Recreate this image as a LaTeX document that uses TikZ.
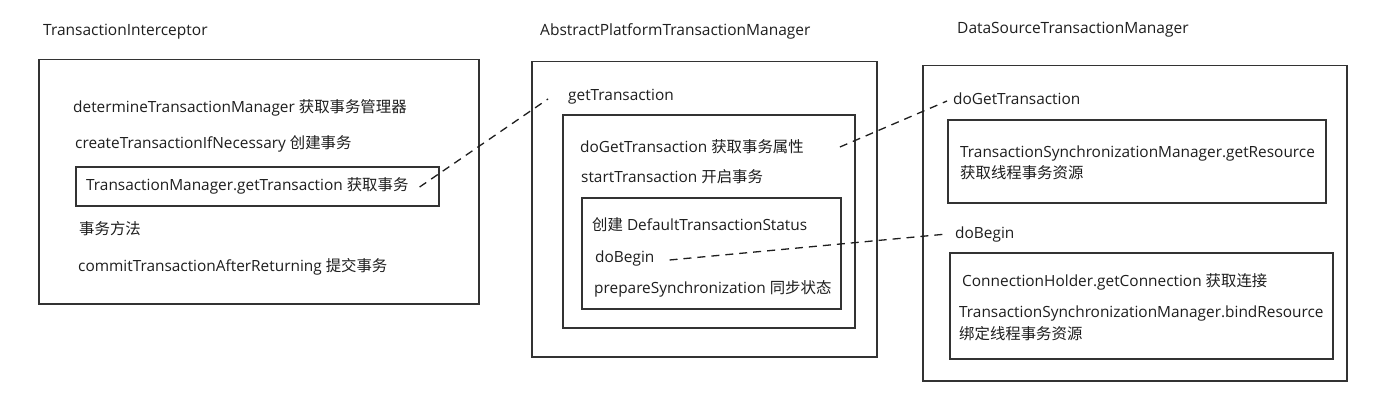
\documentclass[tikz,border=0pt]{standalone}
\usepackage{fontspec}
\setmainfont{Open Sans}
\newfontfamily\cjk{Noto Sans CJK SC}
\usetikzlibrary{calc}
\definecolor{ink}{HTML}{1E1E1E}
\definecolor{edge}{HTML}{333333}
\begin{document}
\begin{tikzpicture}[x=1pt,y=-1pt,
  box/.style={draw=edge, line width=1.5pt, anchor=north west, inner sep=0pt},
  txt/.style={anchor=base west, inner sep=0pt, text=ink, font=\fontsize{15.4}{18}\selectfont},
  title/.style={anchor=base west, inner sep=0pt, text=ink, font=\fontsize{15.5}{18}\selectfont},
  link/.style={draw=ink, line width=1.3pt, dash pattern=on 8pt off 6pt}]
\useasboundingbox (0,0) rectangle (1373,404);
\fill[white] (0,0) rectangle (1373,404);

% titles
\node[title] (t1) at (43,36) {TransactionInterceptor};
\node[title] (t2) at (540,36) {AbstractPlatformTransactionManager};
\node[title] (t3) at (957,34) {DataSourceTransactionManager};

% left column
\node[box, minimum width=440pt, minimum height=244pt] (L) at (38,59) {};
\node[box, minimum width=363pt, minimum height=39pt] (Lin) at (75,166) {};
\node[txt] (dtm) at (73,112) {determineTransactionManager {\cjk 获取事务管理器}};
\node[txt] (ctin) at (75,148) {createTransactionIfNecessary {\cjk 创建事务}};
\node[txt] (tmgt) at (86,190) {TransactionManager.getTransaction {\cjk 获取事务}};
\node[txt] (swff) at (79,234) {{\cjk 事务方法}};
\node[txt] (ctar) at (78,271) {commitTransactionAfterReturning {\cjk 提交事务}};

% middle column
\node[box, minimum width=345pt, minimum height=295pt] (M) at (531,61) {};
\node[box, minimum width=292pt, minimum height=213pt] (Min) at (562,114) {};
\node[box, minimum width=259pt, minimum height=111pt] (Minn) at (581,197) {};
\node[txt] (gt) at (568,100) {getTransaction};
\node[txt] (dgt) at (580,152) {doGetTransaction {\cjk 获取事务属性}};
\node[txt] (st) at (581,182) {startTransaction {\cjk 开启事务}};
\node[txt] (cdts) at (592,230) {{\cjk 创建} DefaultTransactionStatus};
\node[txt] (db) at (595,262) {doBegin};
\node[txt] (ps) at (594,293) {prepareSynchronization {\cjk 同步状态}};

% right column
\node[box, minimum width=424pt, minimum height=315pt] (R) at (922,65) {};
\node[box, minimum width=378pt, minimum height=83pt] (Rin1) at (947,119) {};
\node[box, minimum width=383pt, minimum height=106pt] (Rin2) at (949,252) {};
\node[txt] (rdgt) at (953,104) {doGetTransaction};
\node[txt] (gr) at (960,157) {TransactionSynchronizationManager.getResource};
\node[txt] (gr2) at (960,178) {{\cjk 获取线程事务资源}};
\node[txt] (rdb) at (955,238) {doBegin};
\node[txt] (gc) at (962,286) {ConnectionHolder.getConnection {\cjk 获取连接}};
\node[txt] (br) at (959,317) {TransactionSynchronizationManager.bindResource};
\node[txt] (br2) at (959,339) {{\cjk 绑定线程事务资源}};

% connectors
\draw[link] ($(tmgt.base east)+(11,-3)$) -- ($(gt.base west)+(-20,-1)$);
\draw[link] ($(dgt.base east)+(36,-5)$) -- ($(rdgt.base west)+(-6,-3)$);
\draw[link] ($(db.base east)+(15,-2)$) -- ($(rdb.base west)+(-8,-4)$);
\end{tikzpicture}
\end{document}
